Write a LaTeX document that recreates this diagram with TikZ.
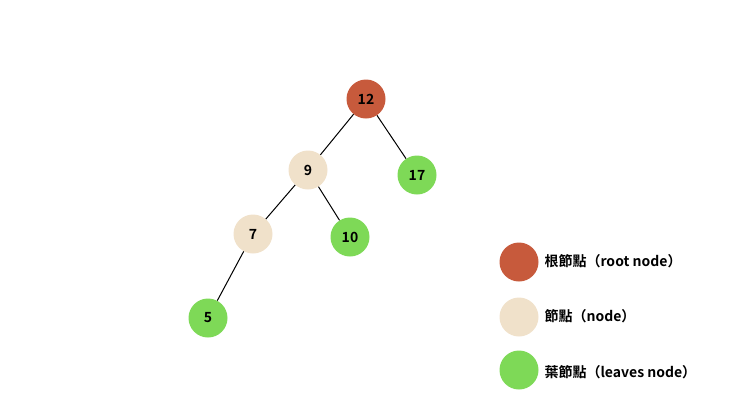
\documentclass[tikz,border=0pt]{standalone}
\usepackage{fontspec}
\setmainfont{Noto Sans CJK TC}[BoldFont={* Bold}]
\begin{document}
\begin{tikzpicture}[x=1pt,y=-1pt,
  tn/.style={circle,minimum size=39pt,inner sep=0pt,font=\fontsize{14}{16}\selectfont\bfseries},
  root/.style={tn,fill=rootc},inner/.style={tn,fill=innc},leaf/.style={tn,fill=leafc},
  lg/.style={anchor=west,font=\fontsize{14}{16}\selectfont\bfseries}]
\definecolor{rootc}{HTML}{C75A3C}
\definecolor{innc}{HTML}{F0E1CA}
\definecolor{leafc}{HTML}{7ED957}
\useasboundingbox (0,0) rectangle (740,416);
\node[root] (n12) at (366,99) {12};
\node[inner] (n9) at (308,170) {9};
\node[leaf] (n17) at (417,175) {17};
\node[inner] (n7) at (253,234) {7};
\node[leaf] (n10) at (350,237) {10};
\node[leaf] (n5) at (208,318) {5};
\draw[line width=1pt] (n12)--(n9) (n12)--(n17) (n9)--(n7) (n9)--(n10) (n7)--(n5);
\node[root] (l1) at (519,262) {};
\node[inner] (l2) at (519,317) {};
\node[leaf] (l3) at (519,370) {};
\node[lg] (t1) at (541,261) {根節點（root node）};
\node[lg] (t2) at (541,316) {節點（node）};
\node[lg] (t3) at (541,372) {葉節點（leaves node）};
\end{tikzpicture}
\end{document}
